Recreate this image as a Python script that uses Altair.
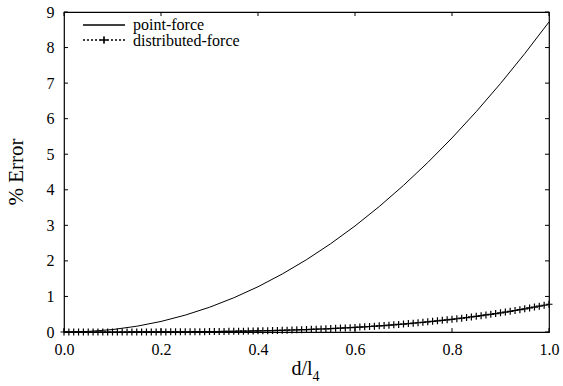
import altair as alt
import pandas as pd

# point-force curve (step 0.05)
x_point = [0.00, 0.05, 0.10, 0.15, 0.20, 0.25, 0.30, 0.35, 0.40, 0.45, 0.50,
           0.55, 0.60, 0.65, 0.70, 0.75, 0.80, 0.85, 0.90, 0.95, 1.00]
y_point = [0.000, 0.016, 0.069, 0.162, 0.297, 0.475, 0.696, 0.962, 1.273, 1.631, 2.034,
           2.485, 2.982, 3.529, 4.123, 4.766, 5.458, 6.198, 6.989, 7.830, 8.720]

# distributed-force curve (step 0.01)
x_dist = [i / 100 for i in range(101)]
y_dist = [0.0000, 0.0000, 0.0000, 0.0000, 0.0000, 0.0000, 0.0000, 0.0000, 0.0000, 0.0001,
          0.0002, 0.0003, 0.0005, 0.0006, 0.0008, 0.0010, 0.0013, 0.0016, 0.0020, 0.0024,
          0.0030, 0.0033, 0.0039, 0.0045, 0.0052, 0.0060, 0.0069, 0.0078, 0.0089, 0.0100,
          0.012, 0.013, 0.014, 0.016, 0.018, 0.020, 0.022, 0.024, 0.027, 0.029,
          0.032, 0.035, 0.038, 0.041, 0.044, 0.048, 0.052, 0.056, 0.060, 0.064,
          0.069, 0.074, 0.079, 0.084, 0.090, 0.096, 0.102, 0.109, 0.115, 0.123,
          0.130, 0.138, 0.146, 0.154, 0.163, 0.173, 0.182, 0.192, 0.202, 0.213,
          0.224, 0.236, 0.247, 0.260, 0.272, 0.285, 0.299, 0.313, 0.327, 0.342,
          0.357, 0.373, 0.389, 0.406, 0.424, 0.442, 0.460, 0.479, 0.498, 0.518,
          0.539, 0.560, 0.582, 0.604, 0.628, 0.652, 0.676, 0.701, 0.727, 0.753,
          0.780]

x_ticks = [0.0, 0.2, 0.4, 0.6, 0.8, 1.0]
y_ticks = [0, 1, 2, 3, 4, 5, 6, 7, 8, 9]
legend_labels = ["point-force", "distributed-force"]

W, H = 485, 320
FONT = "Liberation Serif"
TL = 4

xs = alt.Scale(domain=[0, 1], nice=False, zero=False)
ys = alt.Scale(domain=[0, 9], nice=False, zero=False)

df_p = pd.DataFrame({"x": x_point, "y": y_point})
df_d = pd.DataFrame({"x": x_dist, "y": y_dist})
df_xt = pd.DataFrame({"x": x_ticks})
df_yt = pd.DataFrame({"y": y_ticks})

xaxis = alt.Axis(values=x_ticks, format=".1f", ticks=False, domain=False, grid=False,
                 labelFont=FONT, labelFontSize=16, labelColor="black", labelPadding=9,
                 labelFlush=False, labelOverlap=False, labelBound=False, title=None)
yaxis = alt.Axis(values=y_ticks, format="d", ticks=False, domain=False, grid=False,
                 labelFont=FONT, labelFontSize=16, labelColor="black", labelPadding=10,
                 labelFlush=False, labelOverlap=False, labelBound=False, title=None)


def X():
    return alt.X("x:Q", scale=xs, axis=xaxis)


def Y():
    return alt.Y("y:Q", scale=ys, axis=yaxis)


point_line = alt.Chart(df_p).mark_line(color="black", strokeWidth=1).encode(x=X(), y=Y())

dist_line = alt.Chart(df_d).mark_line(color="black", strokeWidth=1, strokeDash=[2, 2]).encode(
    x=X(), y=Y())

PLUS = "M-1,0L1,0M0,-1L0,1"
dist_pts = alt.Chart(df_d).mark_point(shape=PLUS, color="black", strokeWidth=1.2,
                                      size=49, filled=False, opacity=1).encode(x=X(), y=Y())

# inward ticks on all four sides
tick_b = alt.Chart(df_xt).mark_rule(color="black").encode(
    x=X(), y=alt.value(H), y2=alt.value(H - TL))
tick_t = alt.Chart(df_xt).mark_rule(color="black").encode(
    x=X(), y=alt.value(0), y2=alt.value(TL))
tick_l = alt.Chart(df_yt).mark_rule(color="black").encode(
    y=Y(), x=alt.value(0), x2=alt.value(TL))
tick_r = alt.Chart(df_yt).mark_rule(color="black").encode(
    y=Y(), x=alt.value(W), x2=alt.value(W - TL))

# legend
leg_df = pd.DataFrame({"label": legend_labels})
leg1_line = alt.Chart(leg_df).mark_rule(color="black", strokeWidth=1).encode(
    x=alt.value(19), x2=alt.value(61), y=alt.value(13))
leg2_line = alt.Chart(leg_df).mark_rule(color="black", strokeWidth=1, strokeDash=[2, 2]).encode(
    x=alt.value(19), x2=alt.value(61), y=alt.value(28))
leg2_pt = alt.Chart(leg_df).mark_point(shape=PLUS, color="black", strokeWidth=1.2, size=49,
                                       opacity=1).encode(
    x=alt.value(40), y=alt.value(28))
leg1_txt = alt.Chart(pd.DataFrame({"label": [legend_labels[0]]})).mark_text(
    font=FONT, fontSize=16, align="left", baseline="middle", color="black").encode(
    text="label:N", x=alt.value(69), y=alt.value(13))
leg2_txt = alt.Chart(pd.DataFrame({"label": [legend_labels[1]]})).mark_text(
    font=FONT, fontSize=16, align="left", baseline="middle", color="black").encode(
    text="label:N", x=alt.value(69), y=alt.value(29))

# axis titles
ytitle = alt.Chart(pd.DataFrame({"t": ["% Error"]})).mark_text(
    font=FONT, fontSize=21, angle=270, align="center", baseline="middle", color="black").encode(
    text="t:N", x=alt.value(-47), y=alt.value(H / 2))
xtitle_main = alt.Chart(pd.DataFrame({"t": ["d/l"]})).mark_text(
    font=FONT, fontSize=20, align="right", baseline="alphabetic", color="black").encode(
    text="t:N", x=alt.value(W / 2 + 6), y=alt.value(H + 43))
xtitle_sub = alt.Chart(pd.DataFrame({"t": ["4"]})).mark_text(
    font=FONT, fontSize=14, align="left", baseline="alphabetic", color="black").encode(
    text="t:N", x=alt.value(W / 2 + 6), y=alt.value(H + 49))

chart = alt.layer(
    point_line, dist_line, dist_pts,
    tick_b, tick_t, tick_l, tick_r,
    leg1_line, leg2_line, leg2_pt, leg1_txt, leg2_txt,
    ytitle, xtitle_main, xtitle_sub,
).properties(
    width=W, height=H,
    autosize=alt.AutoSizeParams(type="none"),
    padding={"left": 64, "top": 12, "right": 14, "bottom": 54},
    background="white",
).configure_view(stroke="black", strokeWidth=1.2)

chart.save("out.html", embed_options={"renderer": "svg", "actions": False})
